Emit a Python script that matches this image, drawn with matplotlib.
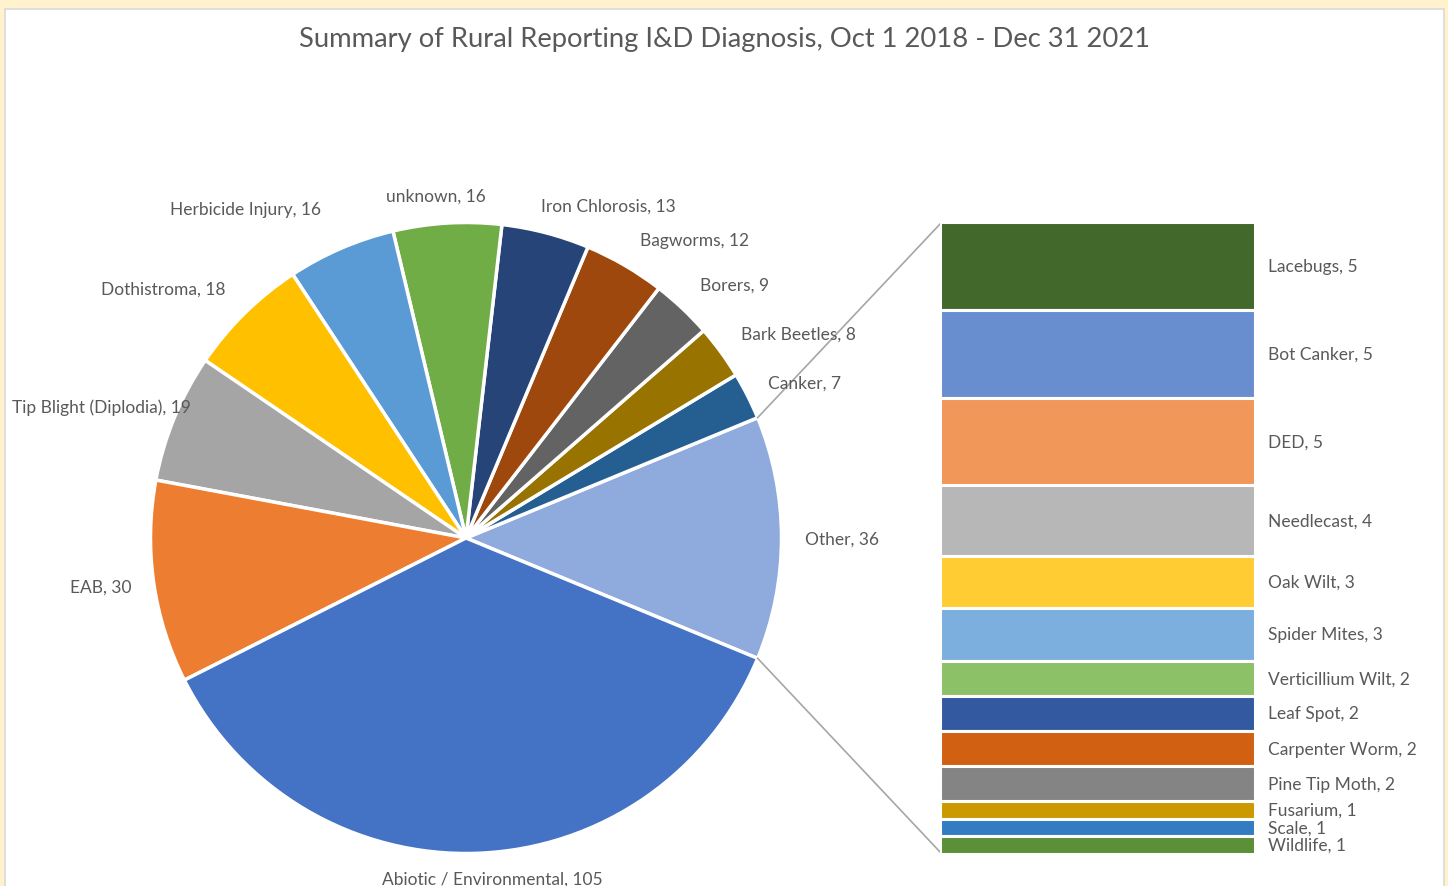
import matplotlib
matplotlib.use("Agg")
import matplotlib.pyplot as plt
import numpy as np
from matplotlib.patches import Rectangle

# ---------------- data ----------------
pie_labels = ["Other", "Canker", "Bark Beetles", "Borers", "Bagworms", "Iron Chlorosis",
              "unknown", "Herbicide Injury", "Dothistroma", "Tip Blight (Diplodia)", "EAB",
              "Abiotic / Environmental"]
pie_values = [36, 7, 8, 9, 12, 13, 16, 16, 18, 19, 30, 105]
pie_colors = ["#8FAADC", "#255E91", "#997300", "#636363", "#9E480E", "#264478",
              "#70AD47", "#5B9BD5", "#FFC000", "#A5A5A5", "#ED7D31", "#4472C4"]

bar_labels = ["Lacebugs", "Bot Canker", "DED", "Needlecast", "Oak Wilt", "Spider Mites",
              "Verticillium Wilt", "Leaf Spot", "Carpenter Worm", "Pine Tip Moth",
              "Fusarium", "Scale", "Wildlife"]
bar_values = [5, 5, 5, 4, 3, 3, 2, 2, 2, 2, 1, 1, 1]
bar_colors = ["#43682B", "#698ED0", "#F1975A", "#B7B7B7", "#FFCD33", "#7CAFDD",
              "#8CC168", "#335AA1", "#D26012", "#848484", "#CC9A00", "#327DC2", "#5B8F38"]

title = "Summary of Rural Reporting I&D Diagnosis, Oct 1 2018 - Dec 31 2021"

# label anchor positions in pixel coords (x, y from top)
pie_label_pos = [(842, 540), (805, 384), (798, 335), (735, 286), (695, 241), (608, 207),
                 (436, 197), (246, 210), (163, 290), (101, 408), (101, 588), (492, 880)]

W, H = 1448, 886
FONT = ["Lato", "DejaVu Sans"]
TXT = "#595959"

fig = plt.figure(figsize=(W / 100, H / 100), dpi=100, facecolor="#FFF2CC")
# white chart area
fig.patches.append(Rectangle((5 / W, -0.01), (1444 - 5) / W, (H - 9) / H + 0.01,
                             transform=fig.transFigure, facecolor="white",
                             edgecolor="#D9D9D9", linewidth=1.2, zorder=-10))

ax = fig.add_axes([0, 0, 1, 1])
ax.patch.set_alpha(0)

cx, cy, r = 466, H - 538, 315.5
other_angle = pie_values[0] / sum(pie_values) * 360
start = -other_angle / 2
wedges, _ = ax.pie(pie_values, colors=pie_colors, startangle=start, counterclock=True,
                   center=(cx, cy), radius=r, frame=True,
                   wedgeprops=dict(edgecolor="white", linewidth=2.5))
ax.set_xlim(0, W)
ax.set_ylim(0, H)
ax.axis("off")

for lab, val, (px, py) in zip(pie_labels, pie_values, pie_label_pos):
    ax.text(px, H - py, f"{lab}, {val}", ha="center", va="center", fontsize=12.5,
            color=TXT, family=FONT)

# bar of pie
bx0, bx1, by0, by1 = 940, 1255, 222, 854
bax = fig.add_axes([bx0 / W, (H - by1) / H, (bx1 - bx0) / W, (by1 - by0) / H])
bax.set_xlim(0, 1)
total_b = sum(bar_values)
bax.set_ylim(total_b, 0)
bax.axis("off")
bax.patch.set_alpha(0)
bottom = 0
for lab, val, col in zip(bar_labels, bar_values, bar_colors):
    bax.bar(0.5, val, bottom=bottom, width=1.0, color=col, edgecolor="white", linewidth=2.2)
    bax.text(1.04, bottom + val / 2 + 0.05, f"{lab}, {val}", ha="left", va="center",
             fontsize=12.5, color=TXT, family=FONT, transform=bax.transData, clip_on=False)
    bottom += val

# connector lines
a1 = np.deg2rad(other_angle / 2)
a2 = np.deg2rad(-other_angle / 2)
ax.plot([cx + r * np.cos(a1), bx0 + 1], [cy + r * np.sin(a1), H - by0 - 1], color="#A6A6A6", lw=1.2)
ax.plot([cx + r * np.cos(a2), bx0 + 1], [cy + r * np.sin(a2), H - by1 + 1], color="#A6A6A6", lw=1.2)

fig.text(725 / W, 1 - 39 / H, title, ha="center", va="center", fontsize=19.7, color=TXT, family=FONT)

fig.savefig("out.png", dpi=100, facecolor=fig.get_facecolor())
